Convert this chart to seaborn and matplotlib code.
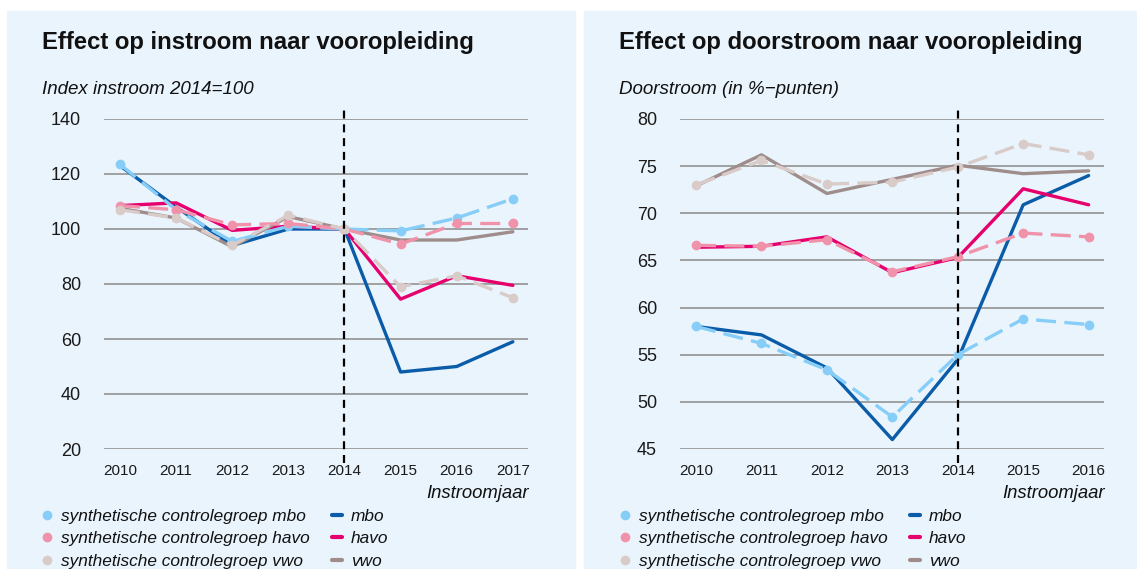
import matplotlib
matplotlib.use("Agg")
import matplotlib.pyplot as plt
from matplotlib.lines import Line2D
from matplotlib.patches import Rectangle
import seaborn as sns
import pandas as pd

# jaren
jaren_in = [2010, 2011, 2012, 2013, 2014, 2015, 2016, 2017]
jaren_door = [2010, 2011, 2012, 2013, 2014, 2015, 2016]

# instroom (index 2014=100)
in_mbo = [123, 108, 94, 100, 100, 48, 50, 59]
in_havo = [108.5, 109.5, 99.5, 101, 100, 74.5, 83, 79.5]
in_vwo = [107.5, 104, 93.5, 104.5, 100, 96, 96, 99]
in_syn_mbo = [123.5, 107, 95.5, 101, 100, 99.3, 104, 111]
in_syn_havo = [108.5, 107, 101.5, 102, 100, 94.5, 102, 102]
in_syn_vwo = [107, 104, 94, 105, 100, 79, 83, 75]

# doorstroom (in %-punten)
door_mbo = [58.0, 57.1, 53.6, 46.0, 54.5, 70.9, 74.0]
door_havo = [66.4, 66.5, 67.5, 63.7, 65.3, 72.6, 70.9]
door_vwo = [72.9, 76.2, 72.1, 73.6, 75.1, 74.2, 74.5]
door_syn_mbo = [58.0, 56.2, 53.4, 48.4, 55.0, 58.8, 58.2]
door_syn_havo = [66.6, 66.5, 67.2, 63.8, 65.4, 67.9, 67.5]
door_syn_vwo = [73.0, 75.6, 73.1, 73.3, 74.9, 77.4, 76.2]

labels = ["mbo", "havo", "vwo"]
syn_labels = ["synthetische controlegroep mbo", "synthetische controlegroep havo",
              "synthetische controlegroep vwo"]
kleur = {"mbo": "#0A5CA8", "havo": "#E6006E", "vwo": "#9E8D8A"}
kleur_syn = {"mbo": "#86CEF8", "havo": "#F093AA", "vwo": "#D9CBC8"}

BG = "#EAF4FD"

sns.set_style("white")
plt.rcParams["font.family"] = ["Liberation Sans", "DejaVu Sans"]

fig = plt.figure(figsize=(11.37, 5.69), dpi=100)
fig.patch.set_facecolor("white")

# achtergrond panelen
fig.patches.append(Rectangle((7 / 1137, 0), (575 - 7) / 1137, 1 - 11 / 569,
                             transform=fig.transFigure, color=BG, zorder=-5))
fig.patches.append(Rectangle((584 / 1137, 0), (1137 - 584) / 1137, 1 - 11 / 569,
                             transform=fig.transFigure, color=BG, zorder=-5))


def teken(ax, jaren, act, syn, xlim, ylim, yticks):
    ax.patch.set_alpha(0)
    for naam, vals in zip(labels, act):
        df = pd.DataFrame({"jaar": jaren, "waarde": vals})
        sns.lineplot(data=df, x="jaar", y="waarde", ax=ax, color=kleur[naam],
                     lw=2.4, zorder=3)
    for naam, vals in zip(labels, syn):
        df = pd.DataFrame({"jaar": jaren, "waarde": vals})
        sns.lineplot(data=df, x="jaar", y="waarde", ax=ax, color=kleur_syn[naam],
                     lw=2.4, linestyle=(0, (6, 2.5)), marker="o", markersize=7,
                     markeredgewidth=0, zorder=4)
    ax.axvline(2014, ymin=-0.042, ymax=1.042, color="black", lw=1.6,
               linestyle=(0, (3.6, 2.6)), clip_on=False, zorder=5)
    ax.set_xlim(*xlim)
    ax.set_ylim(*ylim)
    ax.set_yticks(yticks)
    ax.set_xticks(jaren)
    ax.set_xlabel("")
    ax.set_ylabel("")
    for s in ax.spines.values():
        s.set_visible(False)
    ax.yaxis.grid(True, color="#8A8A8A", lw=1.1)
    ax.set_axisbelow(True)
    ax.tick_params(axis="y", length=0, labelsize=13, pad=16.5, labelcolor="#1A1A1A")
    ax.tick_params(axis="x", length=5, width=1, color="#8A8A8A", labelsize=11,
                   pad=5.5, labelcolor="#1A1A1A")


ax1 = fig.add_axes([104 / 1137, 1 - 449 / 569, (528 - 104) / 1137, 330 / 569])
teken(ax1, jaren_in, [in_mbo, in_havo, in_vwo],
      [in_syn_mbo, in_syn_havo, in_syn_vwo],
      (2009.715, 2017.27), (20, 140), range(20, 141, 20))

ax2 = fig.add_axes([680 / 1137, 1 - 449 / 569, (1104 - 680) / 1137, 330 / 569])
teken(ax2, jaren_door, [door_mbo, door_havo, door_vwo],
      [door_syn_mbo, door_syn_havo, door_syn_vwo],
      (2009.755, 2016.235), (45, 80), range(45, 81, 5))

# titels
fig.text(42 / 1137, 1 - 42 / 569, "Effect op instroom naar vooropleiding",
         fontsize=17.2, fontweight="bold", va="center", ha="left", color="#111111")
fig.text(42 / 1137, 1 - 89 / 569, "Index instroom 2014=100",
         fontsize=13.5, style="italic", va="center", ha="left", color="#111111")
fig.text(619 / 1137, 1 - 42 / 569, "Effect op doorstroom naar vooropleiding",
         fontsize=17.2, fontweight="bold", va="center", ha="left", color="#111111")
fig.text(619 / 1137, 1 - 89 / 569, "Doorstroom (in %\u2212punten)",
         fontsize=13.5, style="italic", va="center", ha="left", color="#111111")

fig.text(529 / 1137, 1 - 494 / 569, "Instroomjaar", fontsize=13.3,
         style="italic", va="center", ha="right", color="#111111")
fig.text(1105 / 1137, 1 - 494 / 569, "Instroomjaar", fontsize=13.3,
         style="italic", va="center", ha="right", color="#111111")

# legenda
handles = []
for naam in labels:
    handles.append(Line2D([], [], marker="o", linestyle="none", markersize=7,
                          markeredgewidth=0, color=kleur_syn[naam]))
for naam in labels:
    handles.append(Line2D([], [], color=kleur[naam], lw=3))
leg_labels = syn_labels + labels

for x0 in (42 / 1137, 620 / 1137):
    fig.legend(handles, leg_labels, loc="upper left",
               bbox_to_anchor=(x0, 1 - 509 / 569), ncol=2, frameon=False,
               prop={"size": 12.4, "style": "italic"}, handlelength=0.6,
               handletextpad=0.5, columnspacing=1.3, labelspacing=0.42,
               borderpad=0, borderaxespad=0, labelcolor="#111111")

fig.savefig("out.png", dpi=100)
